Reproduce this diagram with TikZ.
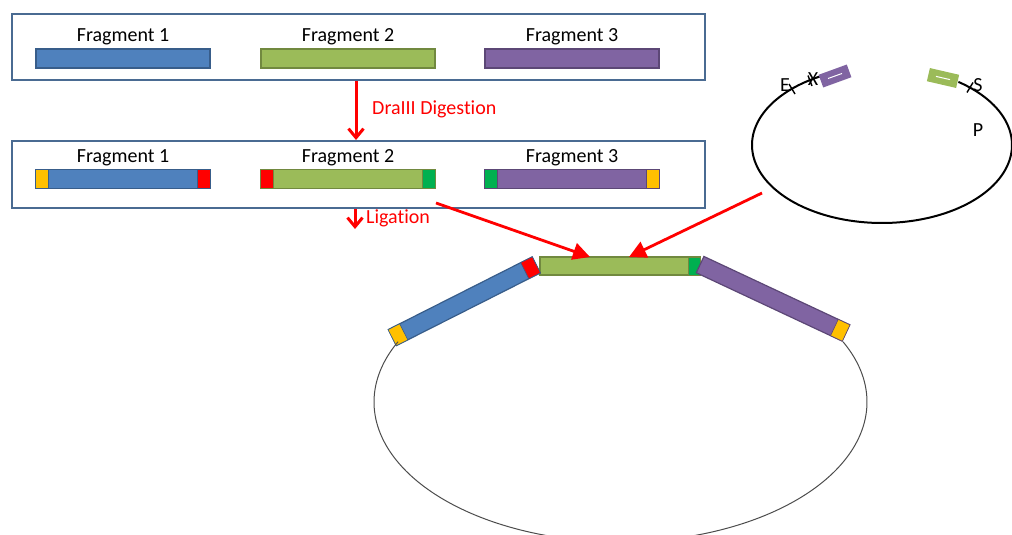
\documentclass[tikz,border=0pt]{standalone}
\usepackage{fontspec}
\setmainfont{Carlito}[Ligatures=NoCommon]
\usetikzlibrary{arrows.meta,calc}
\definecolor{fblue}{HTML}{4F81BD}
\definecolor{fbluedk}{HTML}{385D8A}
\definecolor{fgreen}{HTML}{9BBB59}
\definecolor{fgreendk}{HTML}{71893F}
\definecolor{fpurple}{HTML}{8064A2}
\definecolor{fpurpledk}{HTML}{5C4776}
\definecolor{cyellow}{HTML}{FFC000}
\definecolor{cred}{HTML}{FF0000}
\definecolor{cgreen}{HTML}{00B050}
\definecolor{boxline}{HTML}{4A6B92}
\begin{document}
\begin{tikzpicture}[x=1pt,y=-1pt,
  lbl/.style={font=\fontsize{20}{24}\selectfont, inner sep=0pt, anchor=base},
  redlbl/.style={lbl, text=cred, anchor=base west},
  panel/.style={draw=boxline, line width=1.8pt, minimum width=693pt, minimum height=66pt, inner sep=0pt, anchor=north west},
  frag/.style={line width=1.2pt, minimum width=174pt, minimum height=19pt, inner sep=0pt},
  bluefrag/.style={frag, fill=fblue, draw=fbluedk},
  greenfrag/.style={frag, fill=fgreen, draw=fgreendk},
  purplefrag/.style={frag, fill=fpurple, draw=fpurpledk},
  capbox/.style={minimum width=13pt, minimum height=19pt, inner sep=0pt, line width=0.6pt},
  redarrow/.style={draw=cred, line width=3pt, -{Straight Barb[length=9pt,width=15pt,line width=3pt]}},
  redtri/.style={draw=cred, line width=2.8pt, -{Triangle[length=17pt,width=17pt,fill=cred]}},
  tick/.style={draw=black, line width=1.4pt},
  plasmid/.style={draw=black, line width=2pt},
  ring/.style={draw=black!70, line width=1pt},
  insert/.style={minimum width=30pt, minimum height=13.5pt, inner sep=0pt}]
\useasboundingbox (0,0) rectangle (1012,535);

% ---- top panel ----
\node[panel] (top) at (11,13) {};
\node[lbl] (t1) at (123,42) {Fragment 1};
\node[lbl] (t2) at (348,42) {Fragment 2};
\node[lbl] (t3) at (572,42) {Fragment 3};
\node[bluefrag] (a1) at (123,58.5) {};
\node[greenfrag] (a2) at (348,58.5) {};
\node[purplefrag] (a3) at (572,58.5) {};

% ---- second panel ----
\node[panel, minimum height=67pt] (mid) at (11,140) {};
\node[lbl] (m1) at (123,162.5) {Fragment 1};
\node[lbl] (m2) at (348,162.5) {Fragment 2};
\node[lbl] (m3) at (572,162.5) {Fragment 3};
\node[bluefrag] (d1) at (123,179) {};
\node[greenfrag] (d2) at (348,179) {};
\node[purplefrag] (d3) at (572,179) {};
\node[capbox, fill=cyellow, draw=fbluedk, anchor=west] (d1l) at (d1.west) {};
\node[capbox, fill=cred, draw=fbluedk, anchor=east] (d1r) at (d1.east) {};
\node[capbox, fill=cred, draw=fgreendk, anchor=west] (d2l) at (d2.west) {};
\node[capbox, fill=cgreen, draw=fgreendk, anchor=east] (d2r) at (d2.east) {};
\node[capbox, fill=cgreen, draw=fpurpledk, anchor=west] (d3l) at (d3.west) {};
\node[capbox, fill=cyellow, draw=fpurpledk, anchor=east] (d3r) at (d3.east) {};

% ---- vertical arrows ----
\coordinate (ax) at (356,0);
\draw[redarrow] (top.south -| ax) -- (mid.north -| ax);
\node[redlbl] (dig) at (372,114) {DraIII Digestion};
\coordinate (lx) at (355,229);
\draw[redarrow] (mid.south -| lx) -- (lx);
\node[redlbl] (lig) at (366,223) {Ligation};

% ---- right plasmid ----
\draw[plasmid] plot[domain=-54:241.5, samples=150, smooth] ({882+130*cos(\x)},{145+78*sin(\x)});
\node[insert, fill=fpurple, rotate=20] (pins) at (835,76) {};
\draw[white, line width=1pt] ($(pins.center)+(-7,2.5)$) -- ($(pins.center)+(7,-2.5)$);
\node[insert, fill=fgreen, rotate=-13] (gins) at (943,78) {};
\draw[white, line width=1pt] ($(gins.center)+(-7,-1.6)$) -- ($(gins.center)+(7,1.6)$);
\draw[tick] (789,84) -- (795,94);
\draw[tick] (808,75.5) -- (812,86);
\draw[tick] (973,82.5) -- (967,92.5);
\node[lbl] (lE) at (785,92) {E};
\node[lbl] (lX) at (813,85) {X};
\node[lbl] (lS) at (978,92) {S};
\node[lbl] (lP) at (978,136) {P};

% ---- ligated construct ----
\node[greenfrag, minimum width=160pt, minimum height=18pt] (c2) at (620,266) {};
\node[capbox, minimum width=12pt, minimum height=18pt, fill=cgreen, draw=fgreendk, anchor=east] (c2r) at (c2.east) {};
\node[bluefrag, minimum width=161pt, minimum height=18pt, rotate=26.8] (c1) at (464.25,301.25) {};
\node[capbox, minimum height=18pt, fill=cyellow, draw=fbluedk, rotate=26.8, anchor=west] (c1l) at (c1.west) {};
\node[capbox, minimum height=18pt, fill=cred, draw=fbluedk, rotate=26.8, anchor=east] (c1r) at (c1.east) {};
\node[purplefrag, minimum width=161pt, minimum height=18pt, rotate=-25.1] (c3) at (773,298.75) {};
\node[capbox, minimum height=18pt, fill=cyellow, draw=fpurpledk, rotate=-25.1, anchor=east] (c3r) at (c3.east) {};
\draw[ring] plot[domain=-25.5:205.5, samples=150, smooth] ({620.5+246.5*cos(\x)},{402+140*sin(\x)});

% ---- diagonal arrows ----
\coordinate (s1) at (436,203);
\coordinate (s2) at (762,193);
\coordinate (e1) at (590,257);
\coordinate (e2) at (629,257);
\draw[redtri] (s1) -- (e1);
\draw[redtri] (s2) -- (e2);
\end{tikzpicture}
\end{document}
